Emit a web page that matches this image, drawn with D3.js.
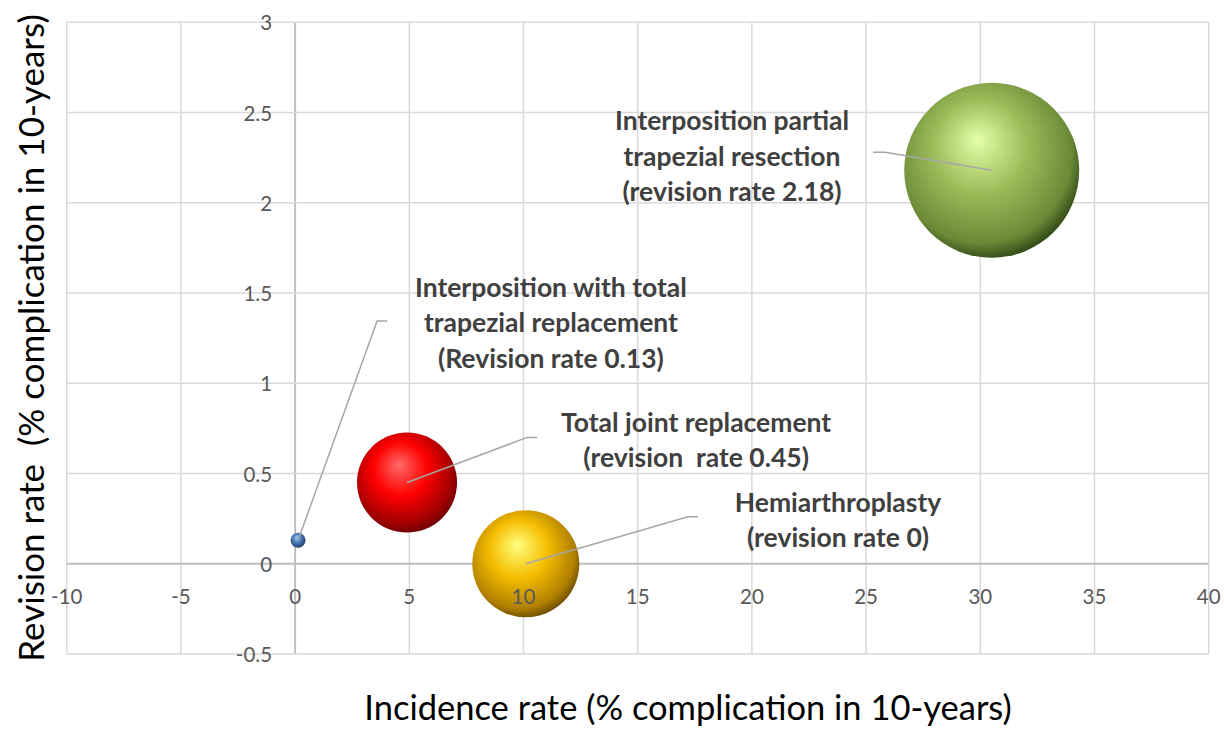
<!DOCTYPE html>
<html><head><meta charset="utf-8">
<script src="https://cdn.jsdelivr.net/npm/d3@7"></script>
<style>body{margin:0;background:#fff}svg{display:block}text{white-space:pre}</style>
</head><body>
<svg id="c" width="1224" height="729"></svg>
<script>
const names = ["Interposition with total trapezial replacement","Total joint replacement","Hemiarthroplasty","Interposition partial trapezial resection"];
const incidence = [0.13, 4.9, 10.1, 30.5];
const revision = [0.13, 0.45, 0, 2.18];
const bubbleSize = [0.73, 32.7, 37.4, 100];
const labelLines = [
  ["Interposition with total","trapezial replacement","(Revision rate 0.13)"],
  ["Total joint replacement","(revision  rate 0.45)"],
  ["Hemiarthroplasty","(revision rate 0)"],
  ["Interposition partial","trapezial resection","(revision rate 2.18)"]
];
const xTicks = [-10,-5,0,5,10,15,20,25,30,35,40];
const yTicks = [-0.5,0,0.5,1,1.5,2,2.5,3];
const xTitle = "Incidence rate (% complication in 10-years)";
const yTitle = "Revision rate  (% complication in 10-years)";
// label anchors (data units) and leader elbows (data units)
const labelX = [11.2, 17.56, 23.77, 19.13];
const labelY = [1.535, 0.787, 0.344, 2.457];
const elbowX = [3.59, 10.16, 17.2, 25.83];
const elbowY = [1.345, 0.70, 0.26, 2.28];
const elbowEndX = [4.03, 10.6, 17.64, 25.3];

const palette = [
  {hi:"#a9c8f0", mid:"#4f81bd", dark:"#1d3a5f", rim:"#2b4d7a"},
  {hi:"#ff6a6a", mid:"#ff0000", dark:"#6e0000", rim:"#a00000"},
  {hi:"#ffff80", mid:"#f5bd00", dark:"#6b4c00", rim:"#b08000"},
  {hi:"#e4ffa8", mid:"#9bbb59", dark:"#2f4412", rim:"#6a8a38"}
];

const svg = d3.select("#c");
const x = d3.scaleLinear().domain([-10,40]).range([66.7,1208.7]);
const y = d3.scaleLinear().domain([-0.5,3]).range([654,22.3]);
const r = d3.scaleSqrt().domain([0,100]).range([0,87.5]);

const defs = svg.append("defs");
palette.forEach((p,i)=>{
  const g = defs.append("radialGradient").attr("id","g"+i)
    .attr("cx","0.45").attr("cy","0.42").attr("r","0.6")
    .attr("fx","0.42").attr("fy","0.32");
  g.append("stop").attr("offset","0").attr("stop-color",p.hi);
  g.append("stop").attr("offset","0.45").attr("stop-color",p.mid);
  g.append("stop").attr("offset","0.85").attr("stop-color",p.rim);
  g.append("stop").attr("offset","1").attr("stop-color",p.dark);
});

// grid
const grid = svg.append("g");
grid.selectAll(".vx").data(xTicks).join("line")
  .attr("x1",d=>x(d)).attr("x2",d=>x(d)).attr("y1",y(3)).attr("y2",y(-0.5))
  .attr("stroke",d=>d===0?"#bfbfbf":"#d9d9d9").attr("stroke-width",d=>d===0?2:1.5);
grid.selectAll(".hy").data(yTicks).join("line")
  .attr("y1",d=>y(d)).attr("y2",d=>y(d)).attr("x1",x(-10)).attr("x2",x(40))
  .attr("stroke",d=>d===0?"#bfbfbf":"#d9d9d9").attr("stroke-width",d=>d===0?2:1.5);

const idx = d3.range(names.length);
// bubbles
svg.append("g").selectAll("circle").data(idx).join("circle")
  .attr("cx",i=>x(incidence[i])).attr("cy",i=>y(revision[i])).attr("r",i=>r(bubbleSize[i]))
  .attr("fill",i=>"url(#g"+i+")");

// tick labels
const tf = "Lato, 'Open Sans', sans-serif";
svg.append("g").selectAll("text").data(xTicks).join("text")
  .attr("x",d=>x(d)).attr("y",y(0)+32).attr("text-anchor","middle").attr("dominant-baseline","central")
  .attr("font-family",tf).attr("font-size",20.5).attr("fill","#595959").text(d=>d);
svg.append("g").selectAll("text").data(yTicks).join("text")
  .attr("x",x(0)-23).attr("y",d=>y(d)).attr("text-anchor","end").attr("dominant-baseline","central")
  .attr("font-family",tf).attr("font-size",20.5).attr("fill","#595959").text(d=>d);

// leader lines
svg.append("g").selectAll("path").data(idx).join("path")
  .attr("d",i=>`M${x(incidence[i])},${y(revision[i])}L${x(elbowX[i])},${y(elbowY[i])}L${x(elbowEndX[i])},${y(elbowY[i])}`)
  .attr("fill","none").attr("stroke","#a6a6a6").attr("stroke-width",1.5);

// labels
const lg = svg.append("g").selectAll("text").data(idx).join("text")
  .attr("x",i=>x(labelX[i])).attr("y",i=>y(labelY[i]))
  .attr("text-anchor","middle").attr("font-family",tf).attr("font-weight","bold")
  .attr("font-size",26.5).attr("fill","#404040");
lg.each(function(i){
  d3.select(this).selectAll("tspan").data(labelLines[i]).join("tspan")
    .attr("x",x(labelX[i])).attr("dy",(d,k)=>k===0?0:35.5).attr("dominant-baseline","central").text(d=>d);
});

// axis titles
svg.append("text").attr("x",688).attr("y",720).attr("text-anchor","middle")
  .attr("font-family",tf).attr("font-size",34.5).attr("fill","#000").text(xTitle);
svg.append("text").attr("transform","translate(30,338) rotate(-90)").attr("text-anchor","middle").attr("dominant-baseline","central")
  .attr("font-family",tf).attr("font-size",35).attr("fill","#000").text(yTitle);
</script>
</body></html>
